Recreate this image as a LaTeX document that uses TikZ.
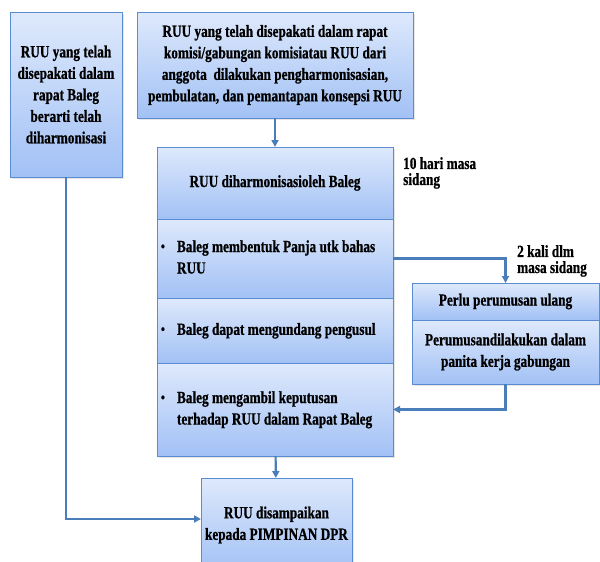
\documentclass[tikz,border=0pt]{standalone}
\usepackage{fontspec}
\setmainfont{Liberation Serif}[FakeStretch=0.78, BoldFeatures={FakeBold=0.8}]
\definecolor{BoxTop}{RGB}{222, 233, 252}
\definecolor{BoxBot}{RGB}{162, 193, 245}
\definecolor{BoxLine}{RGB}{91, 140, 210}
\definecolor{LinkBlue}{RGB}{74, 126, 187}
\usetikzlibrary{arrows.meta, positioning, shadows}

\newcommand{\itembul}{\raisebox{1pt}{\fontsize{14}{14}\selectfont\textbullet}}

\begin{document}
\begin{tikzpicture}[
            x=1pt, y=-1pt,
            box/.style={rectangle, draw=BoxLine, line width=0.8pt, top color=BoxTop, bottom color=BoxBot,
                        outer sep=0pt, inner sep=4pt, align=center,
                        font=\fontsize{17}{21.5}\selectfont\bfseries,
                        drop shadow={shadow xshift=2pt, shadow yshift=-2pt, opacity=0.2}},
            item/.style={box, minimum width=236pt, inner xsep=3pt, anchor=north},
            note/.style={align=left, inner sep=0pt, font=\fontsize{17}{16}\selectfont\bfseries},
            arrow/.style={-{Triangle[length=7pt, width=7pt]}, line width=2.2pt, LinkBlue}
        ]
            \useasboundingbox (0,0) rectangle (600,562);
            \clip (0,0) rectangle (600,562);

            \node[box, anchor=north west, minimum width=112pt, minimum height=165pt] (setuju) at (10,12)
                {RUU yang telah\\disepakati dalam\\rapat Baleg\\berarti telah\\diharmonisasi};
            \node[box, anchor=north west, minimum width=276pt, minimum height=106pt] (usul) at (137,12)
                {RUU yang telah disepakati dalam rapat\\komisi/gabungan komisiatau RUU dari\\anggota\ \ dilakukan pengharmonisasian,\\pembulatan, dan pemantapan konsepsi RUU};

            % harmonisasi oleh Baleg
            \node[box, anchor=north west, minimum width=236pt, minimum height=72pt] (harmon) at (157,147)
                {RUU diharmonisasioleh Baleg};
            \node[item, minimum height=79pt, below=0pt of harmon] (panja)
                {\begin{tabular}{@{}p{16pt}@{}p{212pt}@{}}\itembul & Baleg membentuk Panja utk bahas\\ & RUU\end{tabular}};
            \node[item, minimum height=65pt, below=0pt of panja] (pengusul)
                {\begin{tabular}{@{}p{16pt}@{}p{212pt}@{}}\itembul & Baleg dapat mengundang pengusul\end{tabular}};
            \node[item, minimum height=93pt, below=0pt of pengusul] (putus)
                {\begin{tabular}{@{}p{16pt}@{}p{212pt}@{}}\itembul & Baleg mengambil keputusan\\ & terhadap RUU dalam Rapat Baleg\end{tabular}};

            % perumusan ulang
            \node[box, anchor=north west, minimum width=187pt, minimum height=37pt] (ulang) at (412,283)
                {Perlu perumusan ulang};
            \node[box, minimum width=187pt, minimum height=64pt, below=0pt of ulang] (panitia)
                {Perumusandilakukan dalam\\panita kerja gabungan};

            \node[box, anchor=north west, minimum width=148pt, minimum height=94pt] (pimpinan) at (201,478)
                {RUU disampaikan\\kepada PIMPINAN DPR};

            \node[note, anchor=north west] (sepuluh) at (403,157) {10 hari masa\\sidang};
            \node[note, anchor=north west] (dua) at (517,245) {2 kali dlm\\masa sidang};

            \draw[arrow] (usul) -- (harmon);
            \draw[arrow] (panja.east) -| (ulang.north);
            \draw[arrow] (panitia.south) |- (putus.east);
            \draw[arrow] (putus) -- (pimpinan);
            \draw[arrow] (setuju.south) |- ([yshift=6pt]pimpinan.west);
        \end{tikzpicture}
\end{document}
